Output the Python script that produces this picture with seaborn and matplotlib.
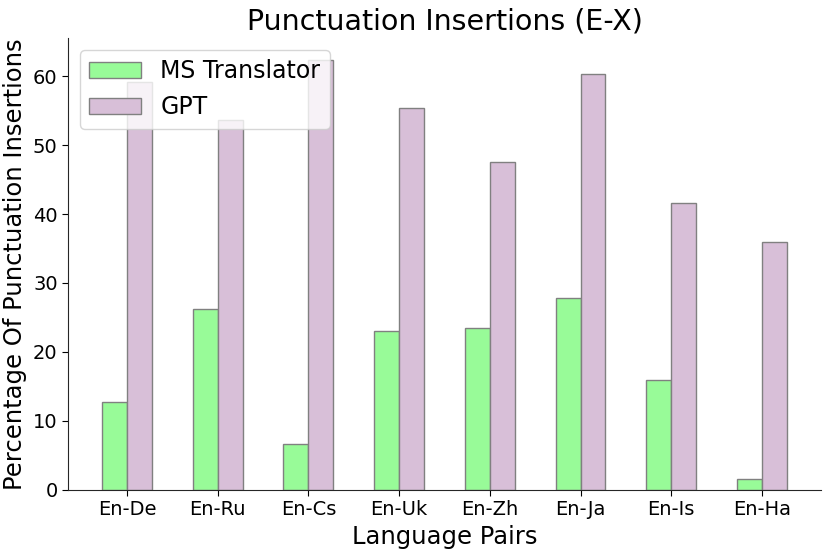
import pandas as pd
import matplotlib.pyplot as plt
import seaborn as sns

pairs = ["En-De", "En-Ru", "En-Cs", "En-Uk", "En-Zh", "En-Ja", "En-Is", "En-Ha"]
ms_translator = [12.7, 26.2, 6.6, 23.0, 23.4, 27.8, 15.9, 1.6]
gpt = [59.1, 53.7, 62.3, 55.4, 47.6, 60.3, 41.6, 35.9]

df = pd.DataFrame({
    "Pair": pairs * 2,
    "Value": ms_translator + gpt,
    "System": ["MS Translator"] * len(pairs) + ["GPT"] * len(pairs),
})

sns.set_style("white", {"text.color": "black", "axes.labelcolor": "black",
                        "xtick.color": "black", "ytick.color": "black"})
fig, ax = plt.subplots(figsize=(8.3, 5.54), dpi=100)
sns.barplot(data=df, x="Pair", y="Value", hue="System",
            palette=["#98FB98", "#D8BFD8"], saturation=1, width=0.55,
            edgecolor="gray", linewidth=1, ax=ax)

ax.set_xlim(-0.65, 7.65)
ax.set_ylim(0, 65.5)
ax.set_title("Punctuation Insertions (E-X)", fontsize=20.5)
ax.set_xlabel("Language Pairs", fontsize=17.5)
ax.set_ylabel("Percentage Of Punctuation Insertions", fontsize=17.5)
ax.tick_params(axis="both", labelsize=14, length=4, bottom=True, left=True)
sns.despine(ax=ax)
ax.legend(loc="upper left", fontsize=17, handlelength=2.2)

fig.subplots_adjust(left=0.082, right=0.989, top=0.931, bottom=0.116)
fig.savefig("out.png", dpi=100)
